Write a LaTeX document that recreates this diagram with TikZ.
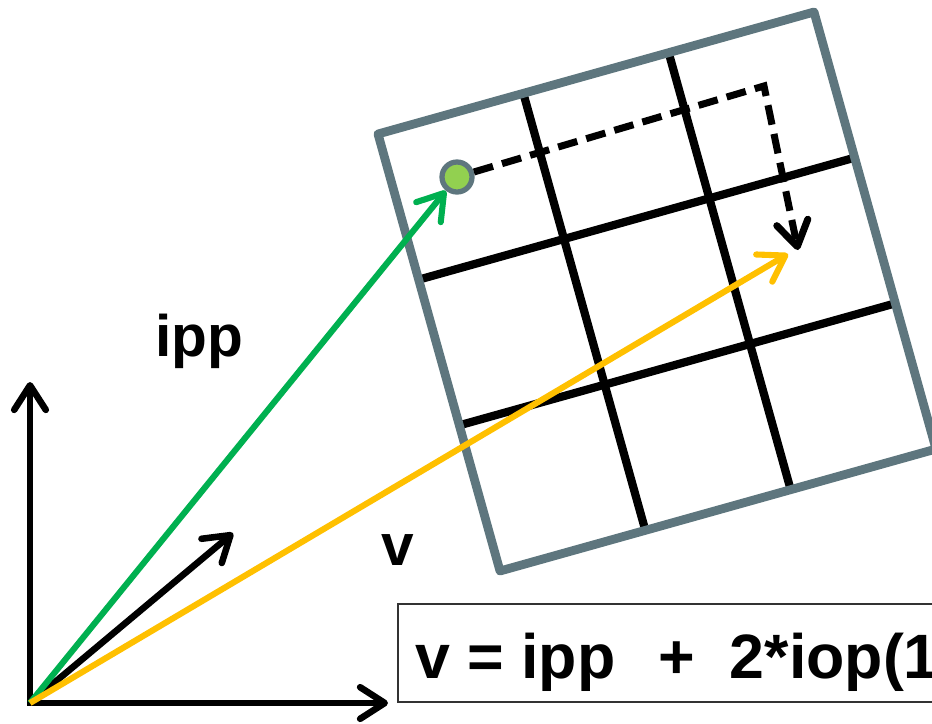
\documentclass[tikz,border=0pt]{standalone}
\usepackage{fontspec}
\setmainfont{Liberation Sans}
\usetikzlibrary{arrows.meta,calc}
\definecolor{gridgray}{RGB}{94,118,126}
\definecolor{ippgreen}{RGB}{0,176,80}
\definecolor{vyellow}{RGB}{255,192,0}
\definecolor{dotgreen}{RGB}{146,208,80}

\begin{document}
\begin{tikzpicture}[x=0.03cm, y=-0.03cm, >={Straight Barb[length=21pt,width=27pt,round]}, vec/.style={->, line width=5.2pt}, gridline/.style={line width=7pt}, lbl/.style={font=\fontsize{50pt}{52pt}\selectfont\bfseries, inner sep=0pt}, eq/.style={font=\fontsize{53.5pt}{55pt}\selectfont\bfseries, inner sep=0pt}]
	\useasboundingbox (0,0) rectangle (932,723);
	\clip (0,0) rectangle (932,723);
	\coordinate (A) at (378,134); \coordinate (B) at (814,12); \coordinate (C) at (936,449); \coordinate (D) at (500,571);
	\foreach \t in {1/3,2/3} {\draw[gridline] ($(A)!\t!(B)$) -- ($(D)!\t!(C)$); \draw[gridline] ($(A)!\t!(D)$) -- ($(B)!\t!(C)$);}
	\draw[gridgray, line width=7.5pt, line join=round] (A) -- (B) -- (C) -- (D) -- cycle;
	\node[circle, draw=gridgray, fill=dotgreen, line width=4.5pt, minimum size=0.9cm, inner sep=0pt] (dot) at (457,177) {};
	\coordinate (bend) at (764,86); \coordinate (cell) at (798,250);
	\draw[->, line width=6pt, dash pattern=on 17pt off 8pt] (dot) -- (bend) -- (cell);
	\coordinate (O) at (30,703); \coordinate (yend) at (30,382); \coordinate (xend) at (388,703);
	\coordinate (w) at (233,533); \coordinate (vtip) at (788,254);
	\draw[<->, line width=5.6pt] (yend) -- (O) -- (xend);
	\draw[vec, line width=5.6pt] (O) -- (w);
	\draw[vec, ippgreen] (O) -- (dot);
	\draw[vec, vyellow] (O) -- (vtip);
	\node[lbl, anchor=base west] (ipplabel) at (155,356) {ipp};
	\node[lbl, anchor=base west] (vlabel) at (381,565) {v};
	\draw[line width=2pt, draw=black!80] (398,604) rectangle (960,702);
	\node[eq, anchor=base west] (eqn) at (415,678) {v = ipp\hspace*{0.68em}+\hspace*{0.56em}2*iop(1};
\end{tikzpicture}
\end{document}
